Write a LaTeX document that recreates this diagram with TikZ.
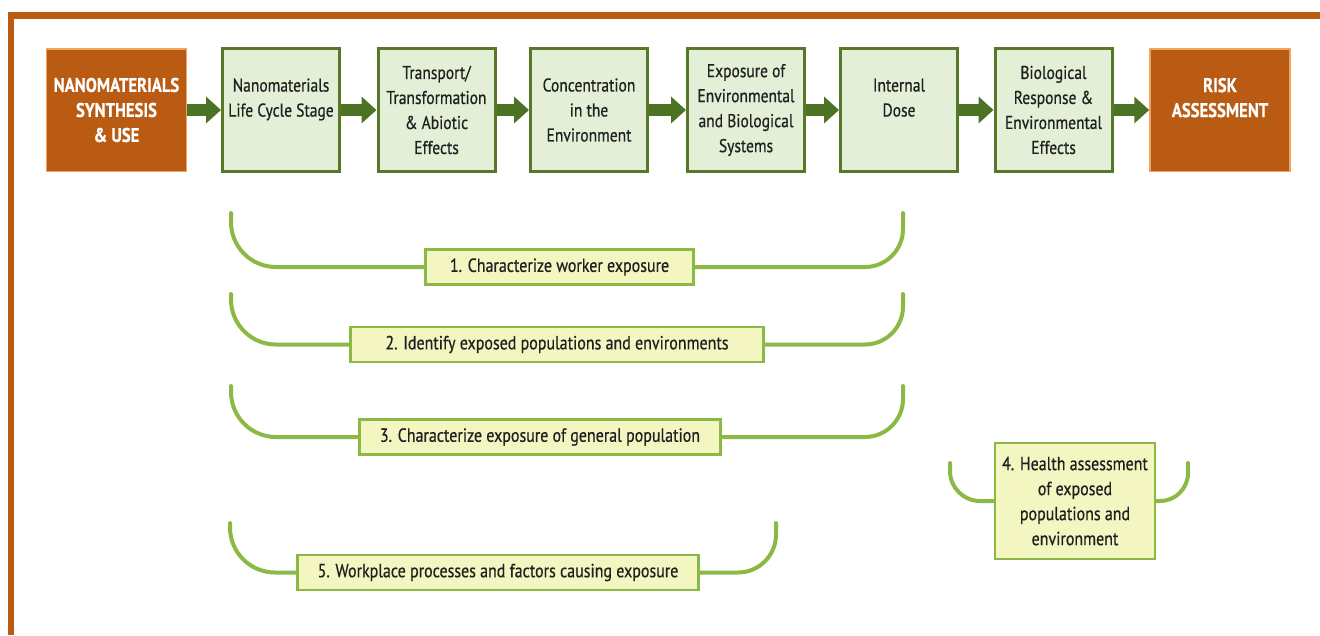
\documentclass[tikz,border=0pt]{standalone}
\usepackage{fontspec}
\setmainfont{PT Sans}[FakeStretch=0.84,FakeBold=0.6]
\usetikzlibrary{arrows.meta}
\definecolor{rust}{HTML}{B95B12}
\definecolor{rustedge}{HTML}{EFA462}
\definecolor{stagefill}{HTML}{E3EFD6}
\definecolor{stageedge}{HTML}{587829}
\definecolor{flowgreen}{HTML}{4C7323}
\definecolor{bracegreen}{HTML}{8CB845}
\definecolor{notefill}{HTML}{F4F6C2}
\definecolor{textgray}{HTML}{202020}
\begin{document}
\begin{tikzpicture}[x=1pt,y=-1pt,
    stage/.style={draw=stageedge,line width=3pt,fill=stagefill,text=textgray,minimum width=117pt,minimum height=123pt,align=center,font=\fontsize{18.5}{25}\selectfont},
    endbox/.style={draw=rustedge,line width=1.5pt,fill=rust,text=white,minimum width=140pt,minimum height=122.5pt,align=center,font=\bfseries\fontsize{19.8}{25}\selectfont},
    flow/.style={draw=flowgreen,line width=12pt,-{Triangle[length=15pt,width=26pt]}},
    note/.style={draw=bracegreen,line width=2.5pt,fill=notefill,text=textgray,minimum height=35pt,align=center,font=\fontsize{19}{25}\selectfont},
    brace/.style={draw=bracegreen,line width=4pt,line cap=round}]
    \useasboundingbox (0,0) rectangle (1320,635);
    \fill[rust] (8,12) rectangle (1320,19);
    \fill[rust] (8,12) rectangle (14,635);

    \node[endbox] (syn) at (116.5,110) {NANOMATERIALS\\SYNTHESIS\\\& USE};
    \node[stage] (life) at (281,110) {Nanomaterials\\Life Cycle Stage\\~};
    \node[stage] (trans) at (436.5,110) {Transport/\\Transformation\\\& Abiotic\\Effects};
    \node[stage] (conc) at (589,110) {Concentration\\in the\\Environment};
    \node[stage] (expo) at (746,110) {Exposure of\\Environmental\\and Biological\\Systems};
    \node[stage] (dose) at (899,110) {Internal\\Dose\\~};
    \node[stage] (bio) at (1053.5,110) {Biological\\Response \&\\Environmental\\Effects};
    \node[endbox] (risk) at (1220,110) {RISK\\ASSESSMENT\\~};

    \draw[flow] (syn) -- (life);
    \draw[flow] (life) -- (trans);
    \draw[flow] (trans) -- (conc);
    \draw[flow] (conc) -- (expo);
    \draw[flow] (expo) -- (dose);
    \draw[flow] (dose) -- (bio);
    \draw[flow] (bio) -- (risk);

    \node[note,minimum width=268pt] (worker) at (559.5,267) {1. Characterize worker exposure};
    \node[note,minimum width=413pt] (exposed) at (557,344.5) {2. Identify exposed populations and environments};
    \node[note,minimum width=361pt] (general) at (540,437) {3. Characterize exposure of general population};
    \node[note,minimum width=160pt,minimum height=116pt] (health) at (1075,501) {4. Health assessment\\of exposed\\populations and\\environment};
    \node[note,minimum width=401pt] (workplace) at (498,572.5) {5. Workplace processes and factors causing exposure};

    \coordinate (workerL) at (231,213);
    \coordinate (workerR) at (903,213);
    \coordinate (exposedL) at (231,294);
    \coordinate (exposedR) at (903,294);
    \coordinate (generalL) at (231,386);
    \coordinate (generalR) at (903,386);
    \coordinate (healthL) at (950,463);
    \coordinate (healthR) at (1188,463);
    \coordinate (workplaceL) at (230,523);
    \coordinate (workplaceR) at (776,523);

    \draw[brace,rounded corners=45pt] (workerL) |- (worker);
    \draw[brace,rounded corners=38pt] (worker) -| (workerR);
    \draw[brace,rounded corners=45pt] (exposedL) |- (exposed);
    \draw[brace,rounded corners=38pt] (exposed) -| (exposedR);
    \draw[brace,rounded corners=45pt] (generalL) |- (general);
    \draw[brace,rounded corners=38pt] (general) -| (generalR);
    \draw[brace,rounded corners=30pt] (healthL) |- (health);
    \draw[brace,rounded corners=28pt] (health) -| (healthR);
    \draw[brace,rounded corners=45pt] (workplaceL) |- (workplace);
    \draw[brace,rounded corners=38pt] (workplace) -| (workplaceR);
\end{tikzpicture}
\end{document}
